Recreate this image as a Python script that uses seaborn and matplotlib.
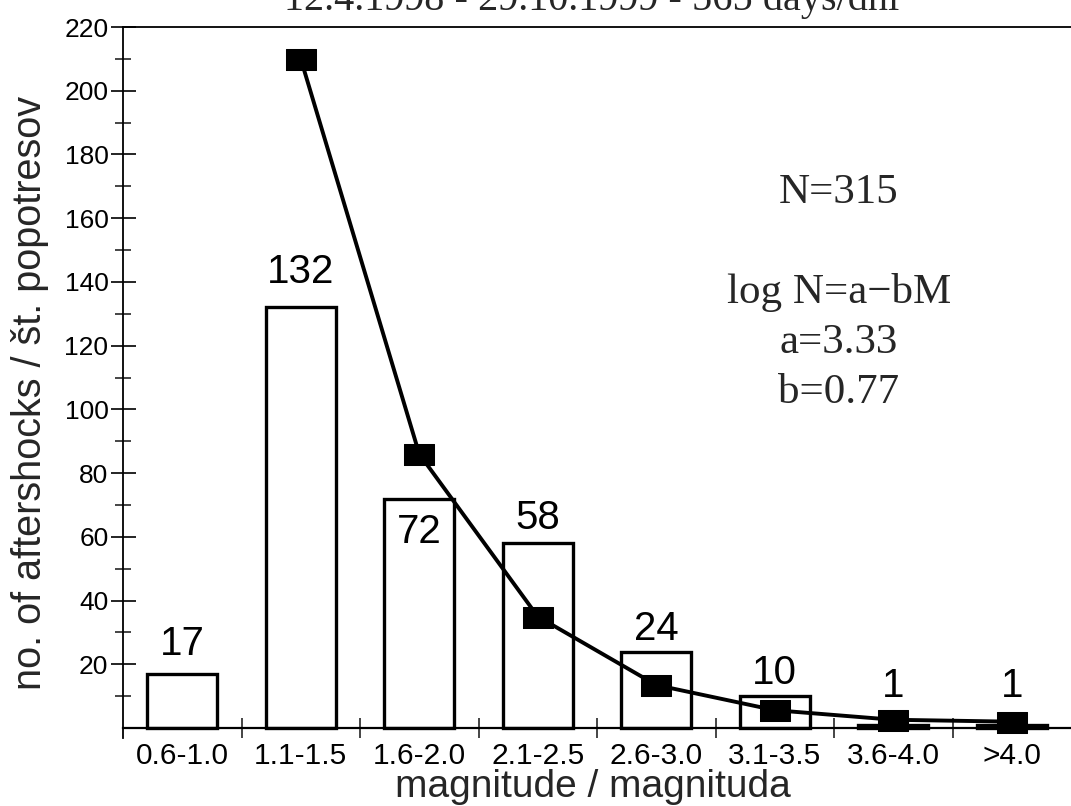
import matplotlib
matplotlib.use('Agg')
import matplotlib.pyplot as plt
import seaborn as sns
from matplotlib.ticker import FixedLocator

# ---- data ----
categories = ['0.6-1.0', '1.1-1.5', '1.6-2.0', '2.1-2.5', '2.6-3.0', '3.1-3.5', '3.6-4.0', '>4.0']
counts = [17, 132, 72, 58, 24, 10, 1, 1]
fit_categories = ['1.1-1.5', '1.6-2.0', '2.1-2.5', '2.6-3.0', '3.1-3.5', '3.6-4.0', '>4.0']
fit_values = [210, 86, 35, 13.5, 5.6, 2.6, 2.0]
y_tick_values = [20, 40, 60, 80, 100, 120, 140, 160, 180, 200, 220]
title_text = '12.4.1998 - 29.10.1999 - 565 days/dni'
x_label = 'magnitude / magnituda'
y_label = 'no. of aftershocks / št. popotresov'
info_lines = ['N=315', 'log N=a\u2212bM', 'a=3.33', 'b=0.77']

# ---- style ----
sns.set_style('ticks')
plt.rcParams['font.family'] = ['Liberation Sans', 'DejaVu Sans']

W, H = 1071, 806
fig = plt.figure(figsize=(W / 100, H / 100), dpi=100)

def fx(px):
    return px / W

def fy(py):
    return 1 - py / H

ax = fig.add_axes([fx(123), fy(737.6), 1 - fx(123), fy(27) - fy(737.6)])

sns.barplot(x=categories, y=counts, order=categories, color='white',
            edgecolor='black', linewidth=2.4, width=0.59, saturation=1, ax=ax)

fit_pos = [categories.index(c) for c in fit_categories]
rect_marker = [(-1, -0.72), (1, -0.72), (1, 0.72), (-1, 0.72), (-1, -0.72)]
sns.lineplot(x=fit_pos, y=fit_values, color='black', linewidth=2.8,
             marker=rect_marker, markersize=21, markerfacecolor='black',
             markeredgecolor='black', ax=ax, zorder=5)

ax.set_xlim(-0.5, 7.5)
ax.set_ylim(-3, 220)
ax.set_xlabel('')
ax.set_ylabel('')

for s in ['left', 'top', 'bottom']:
    ax.spines[s].set_visible(True)
    ax.spines[s].set_linewidth(1.3)
    ax.spines[s].set_color('black')
ax.spines['right'].set_visible(False)
ax.spines['bottom'].set_position(('data', 0))
ax.spines['bottom'].set_linewidth(1.6)

# y ticks
ax.yaxis.set_major_locator(FixedLocator(y_tick_values))
ax.yaxis.set_minor_locator(FixedLocator([v - 10 for v in y_tick_values]))
ax.set_yticklabels([str(v) for v in y_tick_values])
ax.tick_params(axis='y', which='major', direction='inout', length=18, width=1.2,
               labelsize=19, pad=1.5, colors='black')
ax.tick_params(axis='y', which='minor', direction='inout', length=12, width=1.2)

# x ticks
ax.set_xticks(range(len(categories)))
ax.set_xticklabels(categories)
ax.xaxis.set_minor_locator(FixedLocator([i + 0.5 for i in range(len(categories) - 1)]))
ax.tick_params(axis='x', which='major', length=0, labelsize=21.5, pad=10, colors='black')
ax.tick_params(axis='x', which='minor', direction='inout', length=14, width=1.2)

# value labels
label_offsets_px = [19, 24, -44, 14, 12, 12, 28, 28]
for i, (v, off) in enumerate(zip(counts, label_offsets_px)):
    ax.annotate(str(v), xy=(i, v), xytext=(0, off * 0.72), textcoords='offset points',
                ha='center', va='baseline', fontsize=29, color='black', zorder=6)

# axis labels
fig.text(fx(593), fy(797), x_label, ha='center', va='baseline', fontsize=28)
fig.text(fx(30), fy(393), y_label, ha='center', va='center', rotation=90, fontsize=28.5)

# title (cut off at the top edge, as in the reference)
fig.text(fx(592), fy(10), title_text, ha='center', va='baseline', fontsize=29,
         family=['Liberation Serif', 'DejaVu Serif'])

info_baselines = [203, 303, 353, 403]
for t, b in zip(info_lines, info_baselines):
    fig.text(fx(839), fy(b), t, ha='center', va='baseline', fontsize=31,
             family=['Liberation Serif', 'DejaVu Serif'])

fig.savefig('out.png', dpi=100)
